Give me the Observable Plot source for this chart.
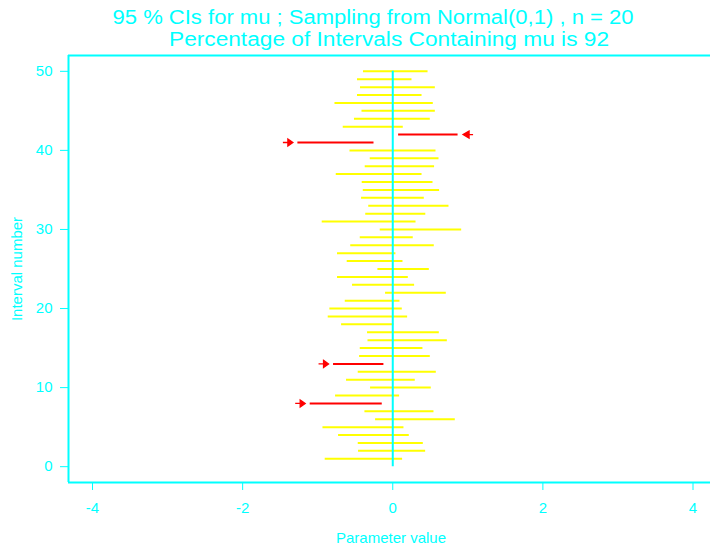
<!DOCTYPE html>
<html>
<head>
<meta charset="utf-8">
<script src="https://cdn.jsdelivr.net/npm/d3@7"></script>
<script src="https://cdn.jsdelivr.net/npm/@observablehq/plot@0.6"></script>
<style>
  html, body { margin: 0; padding: 0; background: white; }
  #chart svg [aria-label="x-axis"] line,
  #chart svg [aria-label="y-axis"] line { stroke-width: 1.6; }
</style>
</head>
<body>
<div id="chart"></div>
<script>
// Interval numbers 1..50
const intervalNumber = [1,2,3,4,5,6,7,8,9,10,11,12,13,14,15,16,17,18,19,20,
  21,22,23,24,25,26,27,28,29,30,31,32,33,34,35,36,37,38,39,40,
  41,42,43,44,45,46,47,48,49,50];
// Lower confidence limits
const lowerLimit = [-0.90,-0.456,-0.46,-0.722,-0.93,-0.229,-0.371,-1.10,-0.762,-0.296,
  -0.616,-0.46,-0.789,-0.442,-0.433,-0.33,-0.336,-0.682,-0.86,-0.838,
  -0.633,-0.096,-0.536,-0.736,-0.198,-0.607,-0.736,-0.56,-0.433,-0.167,
  -0.94,-0.36,-0.32,-0.416,-0.393,-0.407,-0.753,-0.367,-0.30,-0.57,
  -1.264,0.078,-0.66,-0.51,-0.41,-0.77,-0.47,-0.43,-0.47,-0.39];
// Upper confidence limits
const upperLimit = [0.131,0.438,0.407,0.22,0.149,0.833,0.549,-0.14,0.091,0.513,
  0.30,0.58,-0.118,0.50,0.402,0.727,0.62,0.016,0.198,0.127,
  0.096,0.713,0.291,0.207,0.487,0.136,0.042,0.553,0.273,0.918,
  0.31,0.44,0.749,0.42,0.624,0.536,0.39,0.557,0.616,0.576,
  -0.25,0.87,0.14,0.50,0.567,0.54,0.39,0.567,0.256,0.47];
const mu = 0;
const xTicks = [-4, -2, 0, 2, 4];
const yTicks = [0, 10, 20, 30, 40, 50];
const titleLine1 = "95 % CIs for mu ; Sampling from Normal(0,1) , n = 20";
const titleLine2 = "Percentage of Intervals Containing mu is 92";
const xLabel = "Parameter value";
const yLabel = "Interval number";

const cyan = "#00ffff";
const data = intervalNumber.map((i, k) => ({i, lo: lowerLimit[k], hi: upperLimit[k]}));
const covers = data.filter(d => d.lo <= mu && d.hi >= mu);
const missLeft = data.filter(d => d.hi < mu);
const missRight = data.filter(d => d.lo > mu);

const xDomain = [-4.32, 4.233];
const yDomain = [-2, 52];

const arrowRight = {draw(ctx) {
  ctx.moveTo(-5, 0); ctx.lineTo(0, 0);
  ctx.moveTo(0, -3.5); ctx.lineTo(5, 0); ctx.lineTo(0, 3.5); ctx.closePath();
}};
const arrowLeft = {draw(ctx) {
  ctx.moveTo(5, 0); ctx.lineTo(1, 0);
  ctx.moveTo(1, -3.5); ctx.lineTo(-5, 0); ctx.lineTo(1, 3.5); ctx.closePath();
}};

const chart = Plot.plot({
  width: 710,
  height: 548,
  marginTop: 55,
  marginBottom: 66,
  marginLeft: 68,
  marginRight: 0,
  style: {background: "white", color: cyan, fontFamily: "'Liberation Sans', Arial, sans-serif", fontSize: "15px"},
  x: {domain: xDomain, ticks: xTicks, tickSize: 8, tickPadding: 12, tickFormat: d => String(d), label: null},
  y: {domain: yDomain, ticks: yTicks, tickSize: 8, tickPadding: 8, tickFormat: d => String(d), label: null},
  marks: [
    Plot.ruleX([xDomain[0]], {stroke: cyan, strokeWidth: 2}),
    Plot.ruleY([yDomain[0], yDomain[1]], {stroke: cyan, strokeWidth: 2}),
    Plot.ruleY(covers, {y: "i", x1: "lo", x2: "hi", stroke: "#ffff00", strokeWidth: 2}),
    Plot.ruleY(missLeft.concat(missRight), {y: "i", x1: "lo", x2: "hi", stroke: "#ff0000", strokeWidth: 2}),
    Plot.dot(missLeft, {x: "lo", y: "i", dx: -10, symbol: arrowRight, fill: "#ff0000", stroke: "#ff0000", strokeWidth: 1.3}),
    Plot.dot(missRight, {x: "hi", y: "i", dx: 10, symbol: arrowLeft, fill: "#ff0000", stroke: "#ff0000", strokeWidth: 1.3}),
    Plot.ruleX([mu], {y1: intervalNumber[0] - 1, y2: intervalNumber[intervalNumber.length - 1], stroke: cyan, strokeWidth: 2})
  ]
});

const svg = d3.select(chart);
const addText = (txt, x, y, size, opts = {}) => {
  const t = svg.append("text")
    .attr("text-anchor", "middle")
    .attr("fill", cyan)
    .attr("font-family", "'Liberation Sans', Arial, sans-serif")
    .attr("font-size", size)
    .text(txt);
  if (opts.length) t.attr("textLength", opts.length).attr("lengthAdjust", "spacingAndGlyphs");
  if (opts.rotate) t.attr("transform", `translate(${x},${y}) rotate(-90)`);
  else t.attr("x", x).attr("y", y);
};
addText(titleLine1, 373, 24, 20, {length: 521});
addText(titleLine2, 389, 46, 20, {length: 440});
addText(xLabel, 391, 543, 15);
addText(yLabel, 22, 269, 15, {rotate: true});

document.getElementById("chart").appendChild(chart);
</script>
</body>
</html>
